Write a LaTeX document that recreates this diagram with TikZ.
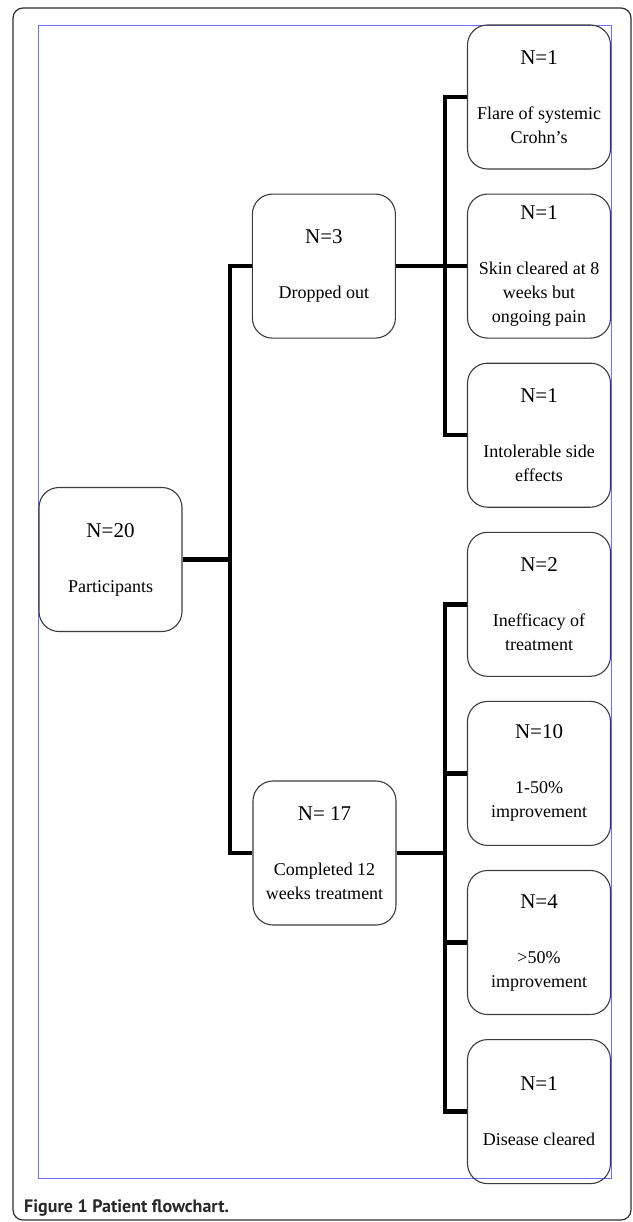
\documentclass[tikz,border=0pt]{standalone}
\usepackage{fontspec}
\setmainfont{Liberation Serif}
\newfontfamily\capfont{PT Sans}
\usetikzlibrary{positioning}

\definecolor{framegray}{RGB}{45,45,45}
\definecolor{boxgray}{RGB}{60,60,60}
\definecolor{panelblue}{RGB}{110,110,255}
\definecolor{capgray}{RGB}{40,40,40}

\tikzset{
  group/.style={draw=boxgray, line width=1.1pt, rounded corners=20pt,
    minimum width=143pt, minimum height=144pt, inner sep=2pt,
    align=center, font=\fontsize{18}{24}\selectfont},
  link/.style={line width=4.5pt},
}
\newcommand{\countline}[1]{{\fontsize{21}{24}\selectfont #1}\\[31pt]}

\begin{document}
\begin{tikzpicture}[x=1pt, y=-1pt]

      \useasboundingbox (0,0) rectangle (632,1222);

      % Frames
      \draw[framegray, line width=1.2pt, rounded corners=10pt] (13,8) rectangle (631,1220);
      \draw[panelblue, line width=0.9pt] (38,25) rectangle (611,1178);

      % Define nodes
	  \node[group]                      (r1) at (539,97) {\countline{N=1}Flare of systemic\\Crohn’s};
	  \node[group, below=24pt of r1]    (r2) {\countline{N=1}Skin cleared at 8\\weeks but\\ongoing pain};
	  \node[group, below=24pt of r2]    (r3) {\countline{N=1}Intolerable side\\effects};
	  \node[group, below=24pt of r3]    (r4) {\countline{N=2}Inefficacy of\\treatment};
	  \node[group, below=24pt of r4]    (r5) {\countline{N=10}1-50\%\\improvement};
	  \node[group, below=24pt of r5]    (r6) {\countline{N=4}>50\%\\improvement};
	  \node[group, below=24pt of r6]    (r7) {\countline{N=1}Disease cleared};
	  \node[group, left=71pt of r2]     (drop) {\countline{N=3}Dropped out};
	  \node[group]                      (done) at (324.5,853) {\countline{N= 17}Completed 12\\weeks treatment};
	  \node[group]                      (part) at (110.5,559.5) {\countline{N=20}Participants};

	  % Branch points
	  \coordinate (jl) at ([xshift=-22pt]drop.west |- part.east);
	  \coordinate (jt) at ([xshift=-22pt]r2.west);
	  \coordinate (jb) at ([xshift=-22pt]r5.west |- done.east);

	  % Connect the nodes
	  \draw[link] (part.east) -- (jl);
	  \draw[link] (drop.west) -| (jl) |- (done.west);
	  \draw[link] (drop.east) -- (r2.west);
	  \draw[link] (r1.west) -| (jt) |- (r3.west);
	  \draw[link] (done.east) -- (jb);
	  \draw[link] (r4.west) -| (jb) |- (r7.west);
	  \draw[link] (jb |- r5.west) -- (r5.west);
	  \draw[link] (jb |- r6.west) -- (r6.west);

	  % Caption
	  \node[anchor=base west, inner sep=0pt, text=capgray,
	        font=\capfont\bfseries\fontsize{18}{20}\selectfont] (caption) at (24,1212) {Figure 1 Patient flowchart.};

\end{tikzpicture}
\end{document}
